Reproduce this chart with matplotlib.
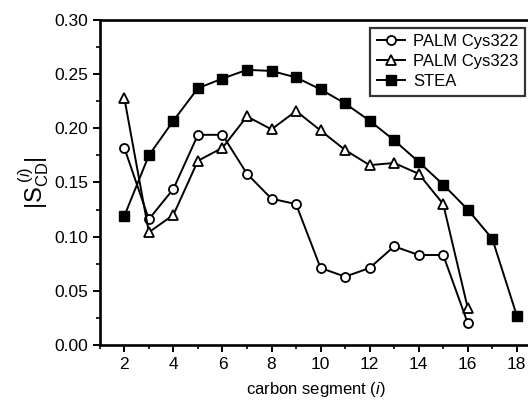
import matplotlib
matplotlib.use("Agg")
import matplotlib.pyplot as plt
from matplotlib.ticker import MultipleLocator

plt.rcParams['font.family'] = ['Liberation Sans', 'DejaVu Sans']
plt.rcParams['mathtext.fontset'] = 'custom'
plt.rcParams['mathtext.rm'] = 'Liberation Sans'
plt.rcParams['mathtext.it'] = 'Liberation Sans:italic'

x_palm = list(range(2, 17))
cys322 = [0.182, 0.116, 0.144, 0.194, 0.194, 0.158, 0.135, 0.130, 0.071,
          0.063, 0.071, 0.091, 0.083, 0.083, 0.020]
cys323 = [0.228, 0.104, 0.120, 0.170, 0.182, 0.211, 0.199, 0.216, 0.198,
          0.180, 0.166, 0.168, 0.158, 0.130, 0.034]
x_stea = list(range(2, 19))
stea = [0.119, 0.175, 0.207, 0.237, 0.246, 0.254, 0.253, 0.247, 0.236,
        0.223, 0.207, 0.189, 0.169, 0.148, 0.125, 0.098, 0.027]

fig = plt.figure(figsize=(5.28, 4.01), dpi=100)
ax = fig.add_axes([0.189, 0.14, 0.82, 0.81])

ax.plot(x_palm, cys322, '-o', color='black', mfc='white', mec='black',
        ms=6.5, mew=1.3, lw=1.4, label='PALM Cys322')
ax.plot(x_palm, cys323, '-^', color='black', mfc='white', mec='black',
        ms=7, mew=1.3, lw=1.4, label='PALM Cys323')
ax.plot(x_stea, stea, '-s', color='black', mfc='black', mec='black',
        ms=6.5, lw=1.4, label='STEA')

ax.set_xlim(1, 18.65)
ax.set_ylim(0, 0.30)
ax.xaxis.set_major_locator(MultipleLocator(2))
ax.xaxis.set_minor_locator(MultipleLocator(1))
ax.yaxis.set_major_locator(MultipleLocator(0.05))
ax.yaxis.set_minor_locator(MultipleLocator(0.025))
ax.yaxis.set_major_formatter(lambda v, p: f"{v:.2f}")
ax.tick_params(which='major', length=5, width=1.4, labelsize=12.5, direction='out')
ax.tick_params(which='minor', length=3, width=1.2, direction='out')

ax.spines['right'].set_visible(False)
for s in ['left', 'bottom', 'top']:
    ax.spines[s].set_linewidth(1.9)

ax.set_xlabel('carbon segment ($\\it{i}$)', fontsize=12, labelpad=6)
ax.set_ylabel(r'$|\mathrm{S}_{\mathrm{CD}}^{\ (i)}|$', fontsize=17, labelpad=2)

leg = ax.legend(loc='upper right', fontsize=12, frameon=True, fancybox=False,
                edgecolor='black', handlelength=1.7, borderaxespad=0.45,
                labelspacing=0.3, handletextpad=0.5, borderpad=0.4)
leg.get_frame().set_linewidth(1.6)

fig.savefig('out.png', dpi=100)
